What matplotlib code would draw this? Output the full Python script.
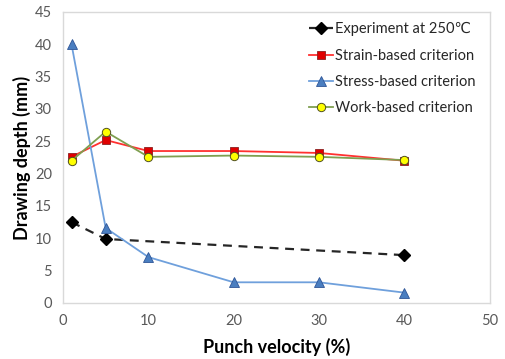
import matplotlib
matplotlib.use("Agg")
import matplotlib.pyplot as plt

plt.rcParams['font.family'] = ['Lato', 'DejaVu Sans']

# Punch velocity (%) and drawing depth (mm)
exp_x = [1, 5, 40]
exp_y = [12.5, 9.9, 7.4]

vel = [1, 5, 10, 20, 30, 40]
strain = [22.6, 25.2, 23.5, 23.5, 23.2, 22.0]
stress = [40.0, 11.6, 7.1, 3.2, 3.2, 1.6]
work = [22.0, 26.5, 22.6, 22.8, 22.6, 22.1]

x_ticks = [0, 10, 20, 30, 40, 50]
y_ticks = [0, 5, 10, 15, 20, 25, 30, 35, 40, 45]

fig = plt.figure(figsize=(5.06, 3.59), dpi=100)
ax = fig.add_axes([0.1245, 0.156, 0.8435, 0.8106])

ax.plot(exp_x, exp_y, color='#262626', ls=(0, (4, 3)), lw=1.6, marker='D',
        ms=6.5, mfc='black', mec='black', label='Experiment at 250\u2103', zorder=3)
ax.plot(vel, strain, color='#FF3030', lw=1.3, marker='s', ms=5.5,
        mfc='#E00000', mec='#8B2020', mew=0.6, label='Strain-based criterion', zorder=4)
ax.plot(vel, stress, color='#6FA0DC', lw=1.3, marker='^', ms=6.5,
        mfc='#4A7EC0', mec='#2F5597', mew=0.6, label='Stress-based criterion', zorder=4)
ax.plot(vel, work, color='#7F9F50', lw=1.3, marker='o', ms=6,
        mfc='#FFFF00', mec='#505020', mew=0.7, label='Work-based criterion', zorder=5)

ax.set_xlim(0, 50)
ax.set_ylim(0, 45)
ax.set_xticks(x_ticks)
ax.set_yticks(y_ticks)
ax.tick_params(length=0, labelsize=10.5, labelcolor='#595959', pad=8)
for s in ax.spines.values():
    s.set_color('#D9D9D9')
    s.set_linewidth(1.0)

ax.set_xlabel('Punch velocity (%)', fontsize=13, fontweight='bold', labelpad=7)
ax.set_ylabel('Drawing depth (mm)', fontsize=13, fontweight='bold', labelpad=3)

leg = ax.legend(loc='upper right', bbox_to_anchor=(0.99, 1.0), frameon=False,
                fontsize=10.5, handlelength=1.6, handletextpad=0.15,
                labelspacing=0.85, borderaxespad=0.3)
for t in leg.get_texts():
    t.set_color('#262626')

fig.savefig('out.png', dpi=100)
